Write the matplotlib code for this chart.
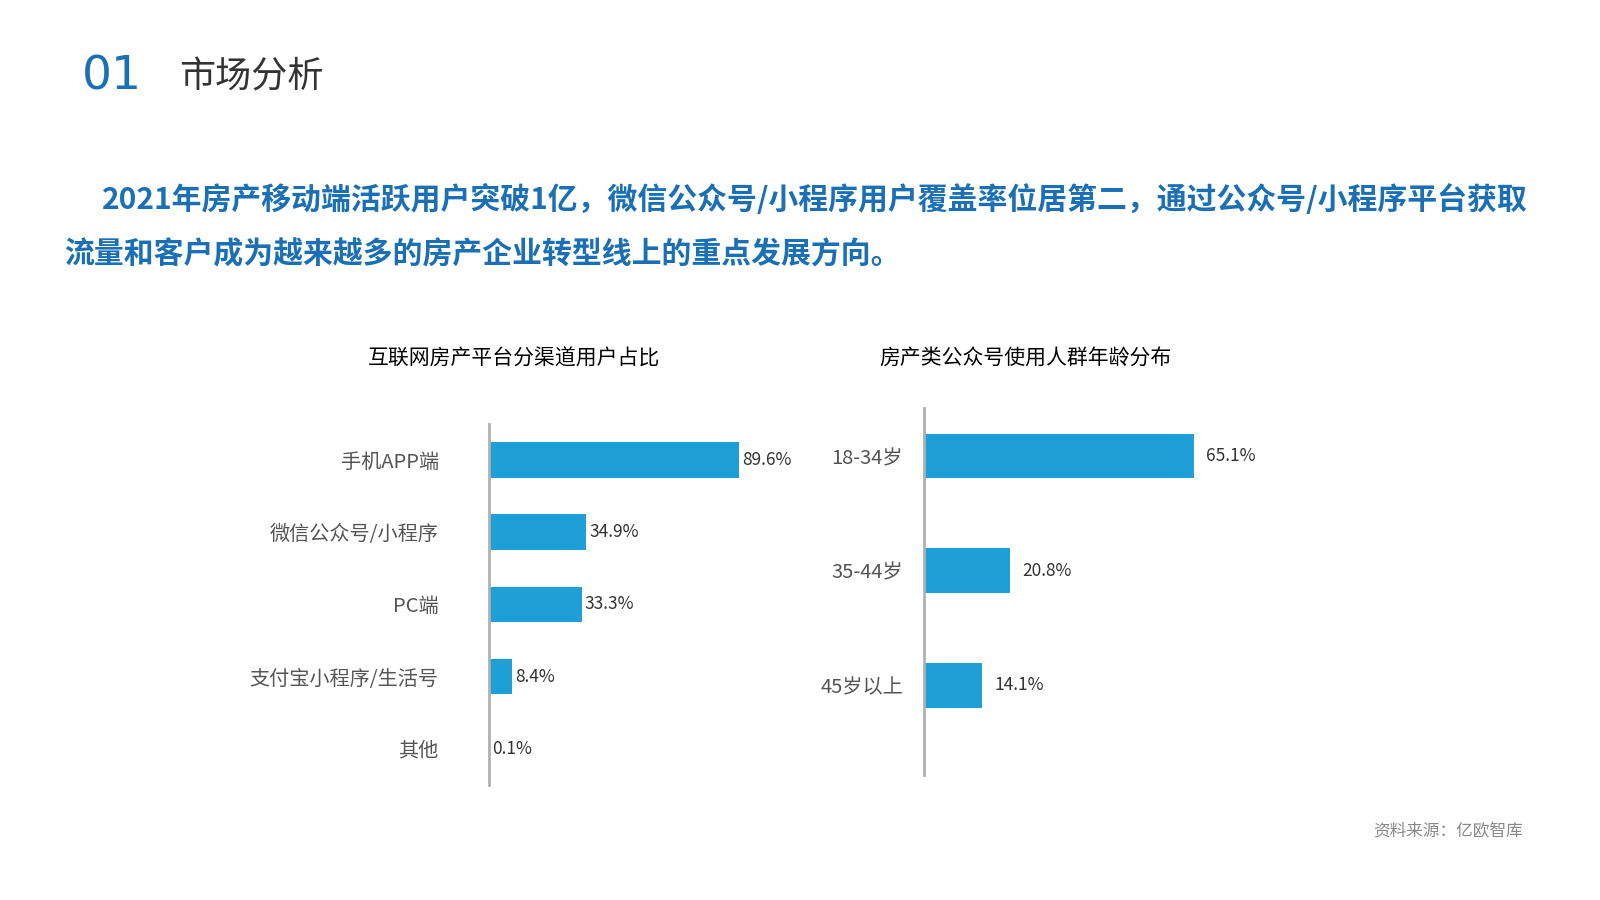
import matplotlib.pyplot as plt

plt.rcParams['font.family'] = ['Noto Sans CJK SC', 'DejaVu Sans']

channels = ["手机APP端", "微信公众号/小程序", "PC端", "支付宝小程序/生活号", "其他"]
channel_share = [89.6, 34.9, 33.3, 8.4, 0.1]
ages = ["18-34岁", "35-44岁", "45岁以上"]
age_share = [65.1, 20.8, 14.1]

BAR = "#1E9FD5"
BLUE = "#1A6FB5"

fig = plt.figure(figsize=(16, 9), dpi=100)
fig.text(0.051, 0.914, "01", fontsize=34, color=BLUE, va="center", family="DejaVu Sans")
fig.text(0.112, 0.914, "市场分析", fontsize=26, color="#333333", va="center")
fig.text(0.064, 0.778, "2021年房产移动端活跃用户突破1亿，微信公众号/小程序用户覆盖率位居第二，通过公众号/小程序平台获取",
         fontsize=21.5, color=BLUE, weight="bold", va="center")
fig.text(0.04, 0.717, "流量和客户成为越来越多的房产企业转型线上的重点发展方向。",
         fontsize=21.5, color=BLUE, weight="bold", va="center")
fig.text(0.321, 0.602, "互联网房产平台分渠道用户占比", fontsize=15, ha="center", va="center")
fig.text(0.641, 0.602, "房产类公众号使用人群年龄分布", fontsize=15, ha="center", va="center")
fig.text(0.952, 0.076, "资料来源：亿欧智库", fontsize=12, color="#888888", ha="right",
         va="center", style="italic")


def style(ax, pad):
    for s in ["top", "right", "bottom"]:
        ax.spines[s].set_visible(False)
    ax.spines["left"].set_color("#b0b0b0")
    ax.spines["left"].set_linewidth(2)
    ax.set_xticks([])
    ax.tick_params(axis="y", length=0, pad=pad, labelsize=14.5, labelcolor="#555555")


ax1 = fig.add_axes([0.3055, 0.128, 0.1746, 0.401])
ax1.barh(range(len(channels)), channel_share, height=0.49, color=BAR)
ax1.set_xlim(0, 100)
ax1.set_ylim(4.5, -0.5)
ax1.set_yticks(range(len(channels)), channels)
style(ax1, 36)
for i, v in enumerate(channel_share):
    ax1.text(v + 1, i, f"{v}%", fontsize=12.5, va="center", color="#333333")

ax2 = fig.add_axes([0.5775, 0.139, 0.259, 0.408])
ax2.barh(range(len(ages)), age_share, height=0.39, color=BAR)
ax2.set_xlim(0, 100)
ax2.set_ylim(2.78, -0.42)
ax2.set_yticks(range(len(ages)), ages)
style(ax2, 15)
for i, v in enumerate(age_share):
    ax2.text(v + 3, i, f"{v}%", fontsize=12.5, va="center", color="#333333")

fig.savefig("out.png")
